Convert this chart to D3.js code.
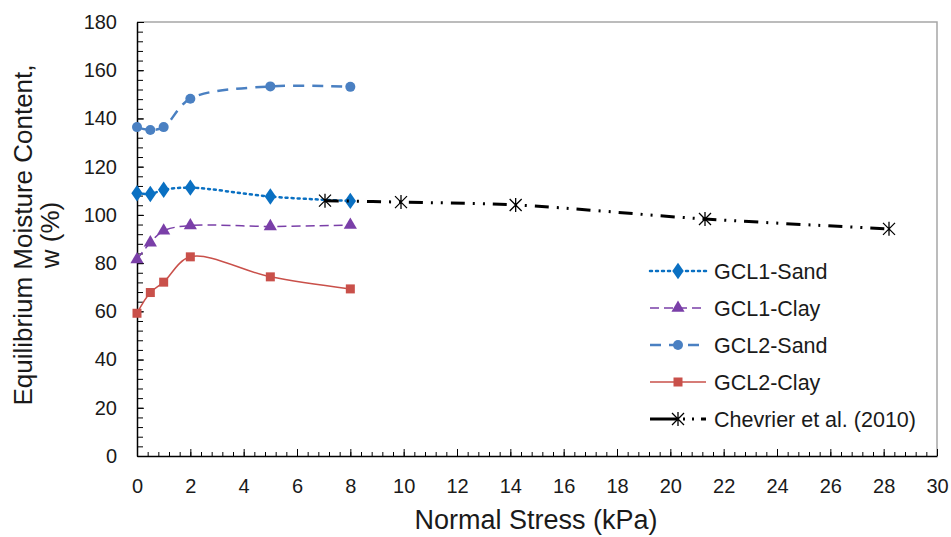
<!DOCTYPE html>
<html>
<head>
<meta charset="utf-8">
<script src="https://cdn.jsdelivr.net/npm/d3@7"></script>
<style>
  body { margin: 0; background: #fff; }
  text { font-family: "Liberation Sans", Arial, sans-serif; fill: #1a1a1a; }
</style>
</head>
<body>
<div id="chart"></div>
<script>
// normal stress (kPa) for the GCL tests
var stressGCL = [0, 0.5, 1, 2, 5, 8];
var gcl1Sand = [109, 108.7, 110.4, 111.3, 107.6, 105.8];
var gcl1Clay = [81.5, 88.5, 93.4, 95.6, 95.2, 95.8];
var gcl2Sand = [136.4, 135.2, 136.4, 148.2, 153.3, 153.1];
var gcl2Clay = [59.2, 67.8, 72.1, 82.6, 74.3, 69.3];
// Chevrier et al. (2010)
var stressChevrier = [7.05, 9.9, 14.2, 21.3, 28.2];
var chevrier = [105.9, 105.3, 104.1, 98.3, 94.2];

var xTicks = [0, 2, 4, 6, 8, 10, 12, 14, 16, 18, 20, 22, 24, 26, 28, 30];
var yTicks = [0, 20, 40, 60, 80, 100, 120, 140, 160, 180];

var width = 951, height = 537;
var pLeft = 137, pRight = 937, pTop = 22, pBottom = 456;

var svg = d3.select("#chart").append("svg")
    .attr("width", width)
    .attr("height", height);

var x = d3.scaleLinear().domain([0, 30]).range([pLeft, pRight]);
var y = d3.scaleLinear().domain([0, 180]).range([pBottom, pTop]);

// plot frame (top & right grey)
svg.append("path")
    .attr("d", "M" + pLeft + "," + pTop + "H" + pRight + "V" + pBottom)
    .attr("fill", "none")
    .attr("stroke", "#a6a6a6")
    .attr("stroke-width", 1.5);

// minor ticks
var xMinor = d3.range(0, 30.001, 0.4);
var yMinor = d3.range(0, 180.001, 4);

svg.append("g")
    .attr("transform", "translate(0," + pBottom + ")")
    .call(d3.axisBottom(x).tickValues(xMinor).tickSize(-4).tickFormat(""))
    .call(g => g.select(".domain").remove())
    .selectAll("line").attr("stroke", "#000");

svg.append("g")
    .attr("transform", "translate(" + pLeft + ",0)")
    .call(d3.axisLeft(y).tickValues(yMinor).tickSize(-6).tickFormat(""))
    .call(g => g.select(".domain").remove())
    .selectAll("line").attr("stroke", "#000");

// major axes
var xAxis = svg.append("g")
    .attr("transform", "translate(0," + pBottom + ")")
    .call(d3.axisBottom(x).tickValues(xTicks).tickSizeInner(-7).tickSizeOuter(0).tickPadding(23));
xAxis.select(".domain").attr("stroke", "#000").attr("stroke-width", 1.5);
xAxis.selectAll("line").attr("stroke", "#000");
xAxis.selectAll("text").style("font-size", "20px").attr("fill", "#1a1a1a")
    .style("font-family", "Liberation Sans, Arial, sans-serif");

var yAxis = svg.append("g")
    .attr("transform", "translate(" + pLeft + ",0)")
    .call(d3.axisLeft(y).tickValues(yTicks).tickSizeInner(-7).tickSizeOuter(0).tickPadding(20));
yAxis.select(".domain").attr("stroke", "#000").attr("stroke-width", 1.5);
yAxis.selectAll("line").attr("stroke", "#000");
yAxis.selectAll("text").style("font-size", "20px").attr("fill", "#1a1a1a")
    .style("font-family", "Liberation Sans, Arial, sans-serif");

// axis titles
svg.append("text")
    .attr("x", 536)
    .attr("y", 529)
    .attr("text-anchor", "middle")
    .style("font-size", "27px")
    .text("Normal Stress (kPa)");

var yt = svg.append("text")
    .attr("transform", "translate(32,235) rotate(-90)")
    .attr("text-anchor", "middle")
    .style("font-size", "26px");
yt.append("tspan").attr("x", 0).attr("dy", 0).text("Equilibrium Moisture Content,");
yt.append("tspan").attr("x", 0).attr("dy", 27).text("w (%)");

// series
var series = [
  {name: "GCL1-Sand", xs: stressGCL, ys: gcl1Sand, color: "#0a70c2", width: 2.5, dash: "2,4", cap: "round", marker: "diamond"},
  {name: "GCL1-Clay", xs: stressGCL, ys: gcl1Clay, color: "#7a3fa8", width: 1.5, dash: "9,5", cap: "butt", marker: "triangle"},
  {name: "GCL2-Sand", xs: stressGCL, ys: gcl2Sand, color: "#4a80c2", width: 2.5, dash: "11,8", cap: "butt", marker: "circle"},
  {name: "GCL2-Clay", xs: stressGCL, ys: gcl2Clay, color: "#c9504a", width: 1.5, dash: null, cap: "butt", marker: "square"},
  {name: "Chevrier et al. (2010)", xs: stressChevrier, ys: chevrier, color: "#000", width: 3, dash: "14,8,2,8,2,8", cap: "butt", marker: "star"}
];

var line = d3.line().curve(d3.curveCatmullRom.alpha(0.5))
    .x(d => x(d[0])).y(d => y(d[1]));

function drawMarker(g, type, cx, cy, color) {
  if (type === "diamond") {
    g.append("path").attr("d", d3.symbol(d3.symbolDiamond, 78)())
      .attr("transform", "translate(" + cx + "," + cy + ") scale(1.2,1)")
      .attr("fill", color);
  } else if (type === "triangle") {
    g.append("path").attr("d", d3.symbol(d3.symbolTriangle, 75)())
      .attr("transform", "translate(" + cx + "," + cy + ")")
      .attr("fill", color);
  } else if (type === "circle") {
    g.append("circle").attr("cx", cx).attr("cy", cy).attr("r", 5)
      .attr("fill", color);
  } else if (type === "square") {
    g.append("rect").attr("x", cx - 4.5).attr("y", cy - 4.5)
      .attr("width", 9).attr("height", 9).attr("fill", color);
  } else if (type === "star") {
    var r = 6;
    var p = "M" + (cx - r) + "," + (cy - r) + "L" + (cx + r) + "," + (cy + r) +
            "M" + (cx - r) + "," + (cy + r) + "L" + (cx + r) + "," + (cy - r) +
            "M" + cx + "," + (cy - r - 1) + "L" + cx + "," + (cy + r + 1);
    g.append("path").attr("d", p).attr("stroke", color).attr("stroke-width", 1.3).attr("fill", "none");
  }
}

series.forEach(function (s) {
  var pts = s.xs.map((v, i) => [v, s.ys[i]]);
  svg.append("path")
      .datum(pts)
      .attr("d", line)
      .attr("fill", "none")
      .attr("stroke", s.color)
      .attr("stroke-width", s.width)
      .attr("stroke-linecap", s.cap)
      .attr("stroke-dasharray", s.dash);
  var g = svg.append("g");
  pts.forEach(function (p) { drawMarker(g, s.marker, x(p[0]), y(p[1]), s.color); });
});

// legend
var legendY = [271, 308, 345, 382, 419];
var legendDash = ["2,4", "9,5", "11,8", null, "27,6,2,7,2,7"];
var legend = svg.append("g");
series.forEach(function (s, i) {
  var ly = legendY[i];
  legend.append("line")
      .attr("x1", 650).attr("x2", 706).attr("y1", ly).attr("y2", ly)
      .attr("stroke", s.color)
      .attr("stroke-width", s.width)
      .attr("stroke-linecap", s.cap)
      .attr("stroke-dasharray", legendDash[i]);
  drawMarker(legend, s.marker, 678, ly, s.color);
  legend.append("text")
      .attr("x", 714).attr("y", ly)
      .attr("dy", "0.35em")
      .style("font-size", "21.5px")
      .text(s.name);
});
</script>
</body>
</html>
